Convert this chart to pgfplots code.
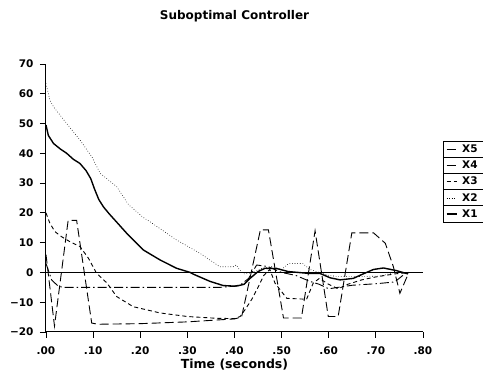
\documentclass[border=0pt]{standalone}
\usepackage{fontspec}
\setmainfont{DejaVu Sans}
\usepackage{pgfplots}
\pgfplotsset{compat=1.18}
\begin{document}
\begin{tikzpicture}
\path[use as bounding box] (0,0) rectangle (483pt,377pt);
\begin{axis}[
  at={(46pt,45pt)}, anchor=south west,
  scale only axis, width=377pt, height=268pt,
  xmin=0, xmax=0.8, ymin=-20, ymax=70,
  axis x line=bottom, axis y line=left,
  axis line style={-, line width=1pt},
  tick align=outside, major tick length=6pt,
  tick style={line width=0.9pt, black},
  xtick={0,0.1,0.2,0.3,0.4,0.5,0.6,0.7,0.8},
  xticklabels={.00,.10,.20,.30,.40,.50,.60,.70,.80},
  ytick={-20,-10,0,10,20,30,40,50,60,70},
  yticklabels={−20,−10,0,10,20,30,40,50,60,70},
  tick label style={font=\bfseries\fontsize{10.5}{12}\selectfont},
  xticklabel style={yshift=-5pt},
  yticklabel style={xshift=-3pt},
  xlabel={Time (seconds)},
  xlabel style={font=\bfseries\fontsize{12.5}{14}\selectfont, at={(axis description cs:0.5,-0.122)}, anchor=center},
  title={Suboptimal Controller},
  title style={font=\bfseries\fontsize{12}{14}\selectfont, at={(0.5,1.157)}, anchor=center},
  legend style={at={(1.06,0.7127)}, anchor=north west, draw=none, fill=none,
    inner sep=0pt, row sep=0pt, column sep=3pt,
    font=\bfseries\fontsize{10.5}{12}\selectfont,
    nodes={minimum height=16.2pt, inner ysep=0pt}},
  legend cell align=left,
  legend image code/.code={\draw[#1] (0pt,0pt) -- (10pt,0pt);},
  reverse legend,
  clip=false,
]
\draw[line width=0.8pt] (axis cs:0,0) -- (axis cs:0.8,0);
% X1 solid
\addplot[black, line width=1.4pt] coordinates {
(0,49.5) (0.005,46) (0.016,43.3) (0.03,41.5) (0.044,40) (0.058,38) (0.072,36.6)
(0.085,34.2) (0.095,31.5) (0.103,28) (0.112,24.5) (0.122,22) (0.134,19.7) (0.146,17.6)
(0.171,13.2) (0.206,7.6) (0.242,4.2) (0.277,1.4) (0.306,0) (0.313,-0.6)
(0.348,-3.0) (0.376,-4.4) (0.40,-4.6) (0.412,-4.3) (0.42,-4.0) (0.433,-2)
(0.45,0.3) (0.465,1.4) (0.49,1.3) (0.514,0.3) (0.556,-0.3) (0.581,-0.3)
(0.603,-1.8) (0.624,-2.5) (0.652,-2) (0.673,-0.5) (0.695,1) (0.716,1.5)
(0.744,0.6) (0.768,-0.5)
};
\addlegendentry{X1}
% X2 dotted
\addplot[black, line width=0.6pt, dotted] coordinates {
(0,63.5) (0.008,58) (0.016,55.6) (0.044,50) (0.072,44.5) (0.097,38.9)
(0.115,33.3) (0.15,28.8) (0.175,22.8) (0.206,18.5) (0.221,17.0) (0.277,10.9)
(0.327,6.4) (0.369,1.9) (0.397,1.9) (0.404,2.5) (0.41,1) (0.42,-0.5) (0.44,0)
(0.46,1.5) (0.48,2) (0.50,1) (0.515,3) (0.545,3) (0.56,1) (0.58,0) (0.60,-1)
(0.62,-1.4) (0.66,-1.4) (0.71,-1.2) (0.74,0) (0.77,0)
};
\addlegendentry{X2}
% X3 short dashed
\addplot[black, line width=0.9pt, dash pattern=on 4pt off 3pt] coordinates {
(0,20) (0.008,16.6) (0.019,13.7) (0.033,12) (0.051,10.3) (0.072,8.7)
(0.09,4.8) (0.107,-0.2) (0.129,-3.5) (0.15,-8.1) (0.185,-11.5) (0.242,-13.6)
(0.30,-14.8) (0.362,-15.4) (0.40,-15.5) (0.412,-14.8) (0.422,-12.6)
(0.436,-9.2) (0.45,-5) (0.462,-1) (0.475,1) (0.486,-3.6) (0.511,-8.7)
(0.553,-9) (0.567,-3.6) (0.58,-2) (0.60,-4) (0.62,-5.5) (0.64,-4) (0.67,-2.5)
(0.70,-1.5) (0.74,-0.5) (0.77,0)
};
\addlegendentry{X3}
% X4 long dashed
\addplot[black, line width=0.9pt, dash pattern=on 9pt off 4pt] coordinates {
(0,6) (0.018,-18) (0.047,17.5) (0.065,17.5) (0.097,-17) (0.11,-17.4)
(0.2,-17.2) (0.3,-16.6) (0.40,-15.6) (0.415,-15) (0.455,14.3) (0.472,14.3)
(0.504,-15.3) (0.542,-15.3) (0.571,14) (0.599,-14.8) (0.62,-14.8)
(0.649,13.3) (0.695,13.3) (0.72,9.8) (0.737,2) (0.751,-7) (0.77,0)
};
\addlegendentry{X4}
% X5 dash-dot
\addplot[black, line width=0.9pt, dash pattern=on 9pt off 3pt on 1.5pt off 3pt] coordinates {
(0,3) (0.012,-2.5) (0.025,-4.5) (0.035,-5) (0.37,-5) (0.41,-4.5) (0.43,-2)
(0.447,2.5) (0.47,2) (0.50,0) (0.53,-1) (0.56,-3) (0.58,-4) (0.60,-5.5)
(0.62,-5) (0.65,-4.3) (0.70,-3.8) (0.74,-3.2) (0.765,0)
};
\addlegendentry{X5}
% legend frame
\draw[line width=0.8pt] (axis description cs:1.053,0.7127) rectangle (axis description cs:1.2,0.4104);
\draw[line width=0.8pt] (axis description cs:1.053,0.65225) -- (axis description cs:1.2,0.65225);
\draw[line width=0.8pt] (axis description cs:1.053,0.5918) -- (axis description cs:1.2,0.5918);
\draw[line width=0.8pt] (axis description cs:1.053,0.53135) -- (axis description cs:1.2,0.53135);
\draw[line width=0.8pt] (axis description cs:1.053,0.4709) -- (axis description cs:1.2,0.4709);
\end{axis}
\end{tikzpicture}
\end{document}
